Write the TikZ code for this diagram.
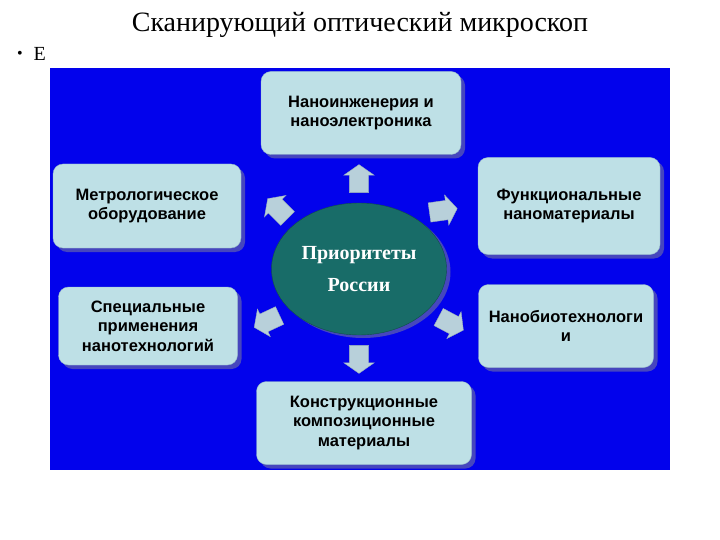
\documentclass[tikz,border=0pt]{standalone}
\usepackage{fontspec}
\setmainfont{Liberation Serif}
\newfontfamily\boxfont{Liberation Sans}
\usetikzlibrary{positioning,shapes.arrows,shapes.geometric,shadows}
\definecolor{slideblue}{RGB}{2,2,236}
\definecolor{boxfill}{RGB}{190,224,230}
\definecolor{boxline}{RGB}{150,185,200}
\definecolor{shadowblue}{RGB}{70,70,190}
\definecolor{tealfill}{RGB}{24,108,104}
\definecolor{arrowfill}{RGB}{184,208,218}
\tikzset{pbox/.style={draw=boxline,fill=boxfill,rounded corners=10pt,align=center,
            font=\boxfont\bfseries\fontsize{16.5}{19.5}\selectfont,
            drop shadow={shadow xshift=4pt,shadow yshift=-4pt,fill=shadowblue,opacity=1}},
         parrow/.style={single arrow,fill=arrowfill,draw=arrowfill!85!black,minimum height=28pt,
            single arrow head extend=5.5pt,single arrow tip angle=110,inner xsep=1pt,inner ysep=9.5pt}}

\begin{document}
\begin{tikzpicture}[x=1pt,y=-1pt]
\useasboundingbox (0,0) rectangle (720,540);
\node at (360,25)(title){\fontsize{28}{33}\selectfont Сканирующий оптический микроскоп};
\node at (20,55)(bullet){\fontsize{16}{18}\selectfont\textbullet};
\node[anchor=west] at (30,54)(e){\fontsize{20}{24}\selectfont E};
\fill[slideblue] (50,68) rectangle (670,470);
\node[pbox,minimum width=200,minimum height=83] at (361,113)(nano){Наноинженерия и\\наноэлектроника};
\node[pbox,minimum width=188,minimum height=84] at (147,206)(metro){Метрологическое\\оборудование};
\node[pbox,minimum width=182,minimum height=97] at (569,206)(func){Функциональные\\наноматериалы};
\node[pbox,minimum width=179,minimum height=78] at (148,326)(spec){Специальные\\применения\\нанотехнологий};
\node[pbox,minimum width=175,minimum height=83] at (566,326)(bio){Нанобиотехнологи\\и};
\node[pbox,minimum width=215,minimum height=83] at (364,423)(constr){Конструкционные\\композиционные\\материалы};
\node[ellipse,draw=tealfill!70!black,fill=tealfill,minimum width=175,minimum height=132,
      text=white,align=center,font=\bfseries\fontsize{20}{32}\selectfont,
      drop shadow={shadow xshift=4pt,shadow yshift=-3pt,fill=shadowblue,opacity=1}]
      at (359,269)(prior){Приоритеты\\России};
\node[parrow,rotate=90] at (359,182)(aup){};
\node[parrow,rotate=135] at (280,211)(aul){};
\node[parrow,rotate=8] at (440,211)(aur){};
\node[parrow,rotate=205] at (270,320)(adl){};
\node[parrow,rotate=-28] at (448,322)(adr){};
\node[parrow,rotate=-90] at (359,356)(adn){};
\end{tikzpicture}
\end{document}
